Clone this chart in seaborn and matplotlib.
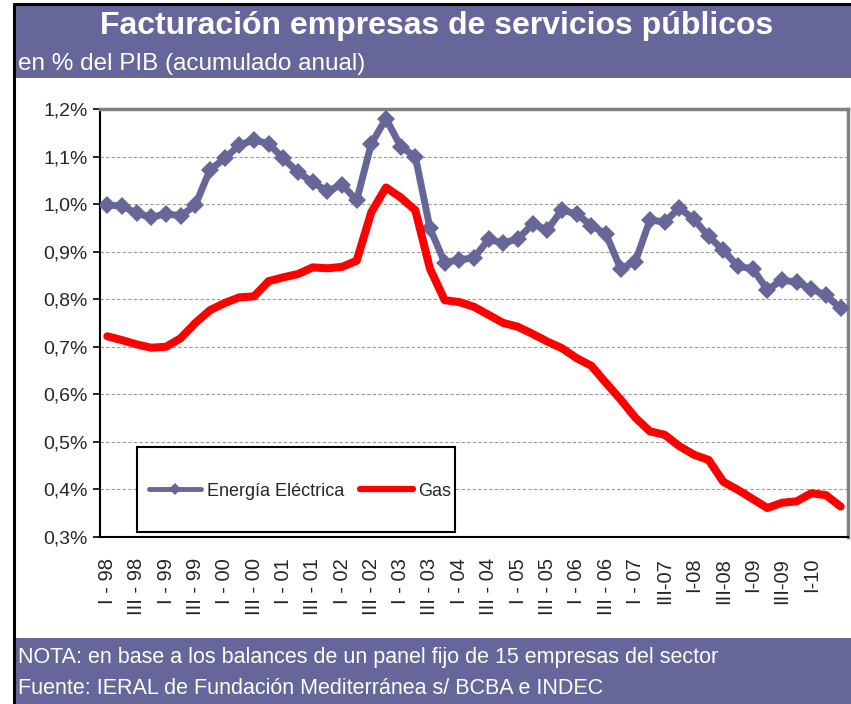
"""
Facturación empresas de servicios públicos, en % del PIB (acumulado anual)
Quarterly series I-98 .. III-10, electricity vs gas
"""
import numpy as np
import pandas as pd
import matplotlib
matplotlib.use('Agg')
import matplotlib.pyplot as plt
import matplotlib.ticker as mticker
from matplotlib.patches import Rectangle
from matplotlib.lines import Line2D
import seaborn as sns

# Data, one value per quarter from I-98 to III-10
energia_electrica = [
    0.998, 0.996, 0.981, 0.972, 0.980, 0.975, 0.998, 1.072, 1.096, 1.124,
    1.135, 1.127, 1.096, 1.067, 1.046, 1.027, 1.041, 1.008, 1.127, 1.180,
    1.121, 1.100, 0.949, 0.877, 0.883, 0.887, 0.926, 0.918, 0.927, 0.958,
    0.946, 0.988, 0.979, 0.955, 0.937, 0.864, 0.879, 0.967, 0.962, 0.992,
    0.968, 0.932, 0.903, 0.869, 0.864, 0.820, 0.840, 0.836, 0.822, 0.808,
    0.781,
]
gas = [
    0.722, 0.714, 0.705, 0.698, 0.700, 0.718, 0.750, 0.777, 0.792, 0.804,
    0.806, 0.838, 0.846, 0.853, 0.867, 0.865, 0.868, 0.881, 0.983, 1.035,
    1.014, 0.987, 0.864, 0.798, 0.794, 0.784, 0.767, 0.750, 0.742, 0.727,
    0.711, 0.697, 0.676, 0.660, 0.624, 0.589, 0.551, 0.522, 0.515, 0.491,
    0.473, 0.462, 0.416, 0.399, 0.380, 0.361, 0.372, 0.375, 0.392, 0.388,
    0.364,
]
tick_labels = [
    'I - 98', 'III - 98', 'I - 99', 'III - 99', 'I - 00', 'III - 00',
    'I - 01', 'III - 01', 'I - 02', 'III - 02', 'I - 03', 'III - 03',
    'I - 04', 'III - 04', 'I - 05', 'III - 05', 'I - 06', 'III - 06',
    'I - 07', 'III-07', 'I-08', 'III-08', 'I-09', 'III-09', 'I-10',
]
y_ticks = [0.3, 0.4, 0.5, 0.6, 0.7, 0.8, 0.9, 1.0, 1.1, 1.2]

titulo = 'Facturación empresas de servicios públicos'
subtitulo = 'en % del PIB (acumulado anual)'
nota = 'NOTA: en base a los balances de un panel fijo de 15 empresas del sector'
fuente = 'Fuente: IERAL de Fundación Mediterránea s/ BCBA e INDEC'

AZUL = '#666699'
ROJO = '#ff0000'
BANDA = '#66669a'

df = pd.DataFrame({
    'trimestre': np.arange(len(energia_electrica)),
    'Energía Eléctrica': energia_electrica,
    'Gas': gas,
})

sns.set_style('white')
plt.rcParams['font.family'] = ['Liberation Sans', 'DejaVu Sans']

W, H = 851, 704
fig = plt.figure(figsize=(W / 100, H / 100), dpi=100)
fig.patch.set_facecolor('white')

# header / footer bands and the black frame
fig.add_artist(Rectangle((15 / W, 1 - 78 / H), 1 - 15 / W, 72 / H,
                         transform=fig.transFigure, facecolor=BANDA, edgecolor='none'))
fig.add_artist(Rectangle((15 / W, 0), 1 - 15 / W, 66 / H,
                         transform=fig.transFigure, facecolor=BANDA, edgecolor='none'))
fig.add_artist(Line2D([14 / W, 14 / W], [0, 1 - 4 / H], transform=fig.transFigure,
                      color='black', lw=2.2))
fig.add_artist(Line2D([14 / W, 1], [1 - 4 / H, 1 - 4 / H], transform=fig.transFigure,
                      color='black', lw=2.2))

fig.text(437 / W, 1 - 26 / H, titulo, color='white', fontsize=23, fontweight='bold',
         ha='center', va='center')
fig.text(18 / W, 1 - 64 / H, subtitulo, color='white', fontsize=17.5, ha='left', va='center')
fig.text(18 / W, 1 - 658 / H, nota, color='white', fontsize=15.5, ha='left', va='center')
fig.text(18 / W, 1 - 689 / H, fuente, color='white', fontsize=15.5, ha='left', va='center')

# plot area
ax = fig.add_axes([100 / W, 1 - 537 / H, 748 / W, 428 / H])
ax.set_facecolor('white')

sns.lineplot(data=df, x='trimestre', y='Energía Eléctrica', ax=ax, color=AZUL, lw=5,
             marker='D', markersize=9, markeredgecolor=AZUL, markeredgewidth=0,
             zorder=3, legend=False)
sns.lineplot(data=df, x='trimestre', y='Gas', ax=ax, color=ROJO, lw=5.8,
             solid_capstyle='round', solid_joinstyle='round', zorder=3, legend=False)

n = len(energia_electrica)
ax.set_xlim(-0.5, n - 0.5)
ax.set_ylim(0.3, 1.2)

ax.set_yticks(y_ticks)
ax.yaxis.set_major_formatter(mticker.FuncFormatter(lambda v, p: f'{v:.1f}%'.replace('.', ',')))
ax.yaxis.grid(True, linestyle=(0, (3, 2)), color='#9a9a9a', lw=0.8)
ax.set_axisbelow(True)

ax.set_xticks(np.arange(0, 2 * len(tick_labels), 2))
ax.set_xticklabels(tick_labels, rotation=90, va='top', ha='center')
ax.xaxis.set_minor_locator(mticker.FixedLocator(np.arange(-0.5, n, 1)))
ax.tick_params(axis='x', which='major', length=0, pad=15, labelsize=14.5)
ax.tick_params(axis='x', which='minor', length=5, width=1.2, color='black', direction='out')
ax.tick_params(axis='y', which='major', length=5, width=1.2, color='black', direction='out',
               labelsize=14, pad=4, left=True)
ax.set_xlabel('')
ax.set_ylabel('')

for s in ['left', 'bottom']:
    ax.spines[s].set_color('black')
    ax.spines[s].set_linewidth(1.5)
for s in ['top', 'right']:
    ax.spines[s].set_color('#808080')
    ax.spines[s].set_linewidth(2.5)

# legend box
box = Rectangle((37 / 748, 5 / 428), 318 / 748, 85 / 428, transform=ax.transAxes,
                facecolor='white', edgecolor='black', lw=1.5, zorder=4)
ax.add_patch(box)
handles = [
    Line2D([], [], color=AZUL, lw=3.5, marker='D', markersize=6, markeredgewidth=0),
    Line2D([], [], color=ROJO, lw=4.5),
]
leg = ax.legend(handles, ['Energía Eléctrica', 'Gas'], loc='center', ncol=2,
                bbox_to_anchor=(200 / 748, 46 / 428), frameon=False, fontsize=13,
                handlelength=2.9, handletextpad=0.3, columnspacing=0.9)
leg.set_zorder(5)

fig.savefig('out.png', dpi=100, facecolor='white')
